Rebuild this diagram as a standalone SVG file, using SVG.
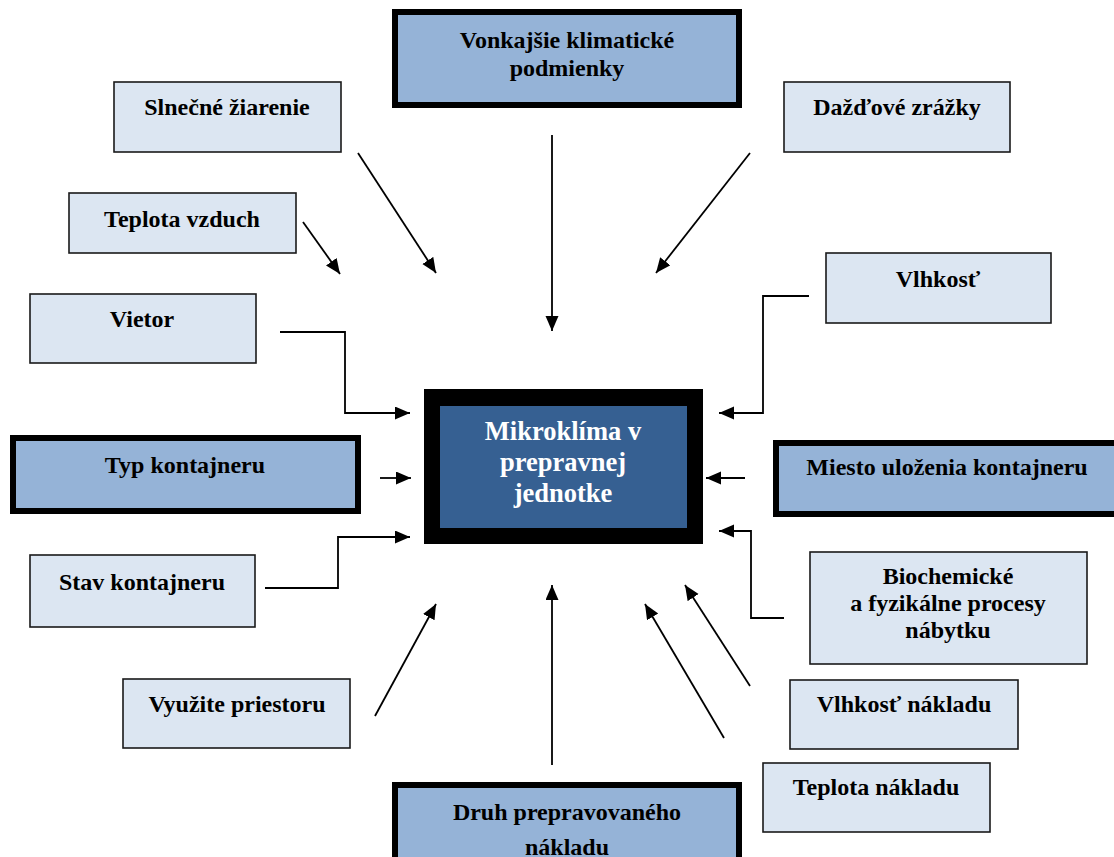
<svg xmlns="http://www.w3.org/2000/svg" width="1114" height="857" viewBox="0 0 1114 857">
<defs>
<marker id="ah" markerUnits="userSpaceOnUse" markerWidth="16" markerHeight="14" refX="15" refY="6.5" orient="auto">
<path d="M0,0 L15,6.5 L0,13 z" fill="#000"/>
</marker>
<style>
.light{fill:#DCE6F2;stroke:#1a1a1a;stroke-width:1.6}
.heavy{fill:#95B3D7;stroke:#000;stroke-width:6}
.t{font-family:"Liberation Serif","Times New Roman",serif;font-weight:bold;font-size:24px;fill:#000;text-anchor:middle}
.c{font-family:"Liberation Serif","Times New Roman",serif;font-weight:bold;font-size:26.5px;fill:#fff;text-anchor:middle}
.ln{fill:none;stroke:#000;stroke-width:1.8}
</style>
</defs>
<rect width="1114" height="857" fill="#fff"/>
<g id="connectors">
<line class="ln" x1="358" y1="153" x2="436" y2="273" marker-end="url(#ah)"/>
<line class="ln" x1="303" y1="222" x2="340" y2="274" marker-end="url(#ah)"/>
<line class="ln" x1="552" y1="135" x2="552" y2="331" marker-end="url(#ah)"/>
<line class="ln" x1="750" y1="153" x2="656" y2="273" marker-end="url(#ah)"/>
<polyline class="ln" points="809,296 763,296 763,413 719,413" marker-end="url(#ah)"/>
<polyline class="ln" points="280,332 345,332 345,413 410,413" marker-end="url(#ah)"/>
<line class="ln" x1="380" y1="478" x2="411" y2="478" marker-end="url(#ah)"/>
<line class="ln" x1="745" y1="478" x2="706" y2="478" marker-end="url(#ah)"/>
<polyline class="ln" points="265,588 338,588 338,537 410,537" marker-end="url(#ah)"/>
<polyline class="ln" points="784,618 751,618 751,531 719,531" marker-end="url(#ah)"/>
<line class="ln" x1="375" y1="716" x2="436" y2="604" marker-end="url(#ah)"/>
<line class="ln" x1="552" y1="765" x2="552" y2="585" marker-end="url(#ah)"/>
<line class="ln" x1="750" y1="686" x2="685" y2="585" marker-end="url(#ah)"/>
<line class="ln" x1="724" y1="738" x2="645" y2="604" marker-end="url(#ah)"/>
</g>
<g id="center">
<rect x="424" y="389" width="279" height="155" fill="#000"/>
<rect x="440" y="406" width="247" height="122" fill="#366092"/>
<text class="c" x="563" y="440">Mikroklíma v</text>
<text class="c" x="563" y="471">prepravnej</text>
<text class="c" x="563" y="502">jednotke</text>
</g>
<g id="vonkajsie">
<rect class="heavy" x="395" y="12" width="344" height="93"/>
<text class="t" x="567" y="48">Vonkajšie klimatické</text>
<text class="t" x="567" y="76">podmienky</text>
</g>
<g id="slnecne">
<rect class="light" x="114" y="82" width="227" height="70"/>
<text class="t" x="227" y="115">Slnečné žiarenie</text>
</g>
<g id="dazdove">
<rect class="light" x="784" y="82" width="226" height="70"/>
<text class="t" x="897" y="115">Dažďové zrážky</text>
</g>
<g id="teplota-vzduch">
<rect class="light" x="69" y="193" width="227" height="60"/>
<text class="t" x="182" y="227">Teplota vzduch</text>
</g>
<g id="vlhkost">
<rect class="light" x="826" y="253" width="225" height="70"/>
<text class="t" x="938" y="287">Vlhkosť</text>
</g>
<g id="vietor">
<rect class="light" x="30" y="294" width="226" height="69"/>
<text class="t" x="142" y="327">Vietor</text>
</g>
<g id="typ">
<rect class="heavy" x="13" y="438" width="345" height="73"/>
<text class="t" x="185" y="473">Typ kontajneru</text>
</g>
<g id="miesto">
<rect class="heavy" x="776" y="443" width="345" height="71"/>
<text class="t" x="947" y="475">Miesto uloženia kontajneru</text>
</g>
<g id="stav">
<rect class="light" x="30" y="555" width="225" height="72"/>
<text class="t" x="142" y="590">Stav kontajneru</text>
</g>
<g id="biochemicke">
<rect class="light" x="810" y="552" width="277" height="112"/>
<text class="t" x="948" y="584">Biochemické</text>
<text class="t" x="948" y="611">a fyzikálne procesy</text>
<text class="t" x="948" y="638">nábytku</text>
</g>
<g id="vyuzite">
<rect class="light" x="123" y="679" width="227" height="69"/>
<text class="t" x="237" y="712">Využite priestoru</text>
</g>
<g id="vlhkost-nakladu">
<rect class="light" x="790" y="680" width="228" height="69"/>
<text class="t" x="904" y="712">Vlhkosť nákladu</text>
</g>
<g id="teplota-nakladu">
<rect class="light" x="763" y="763" width="227" height="69"/>
<text class="t" x="876" y="795">Teplota nákladu</text>
</g>
<g id="druh">
<rect class="heavy" x="395" y="785" width="344" height="90"/>
<text class="t" x="567" y="820">Druh prepravovaného</text>
<text class="t" x="567" y="855">nákladu</text>
</g>
</svg>
